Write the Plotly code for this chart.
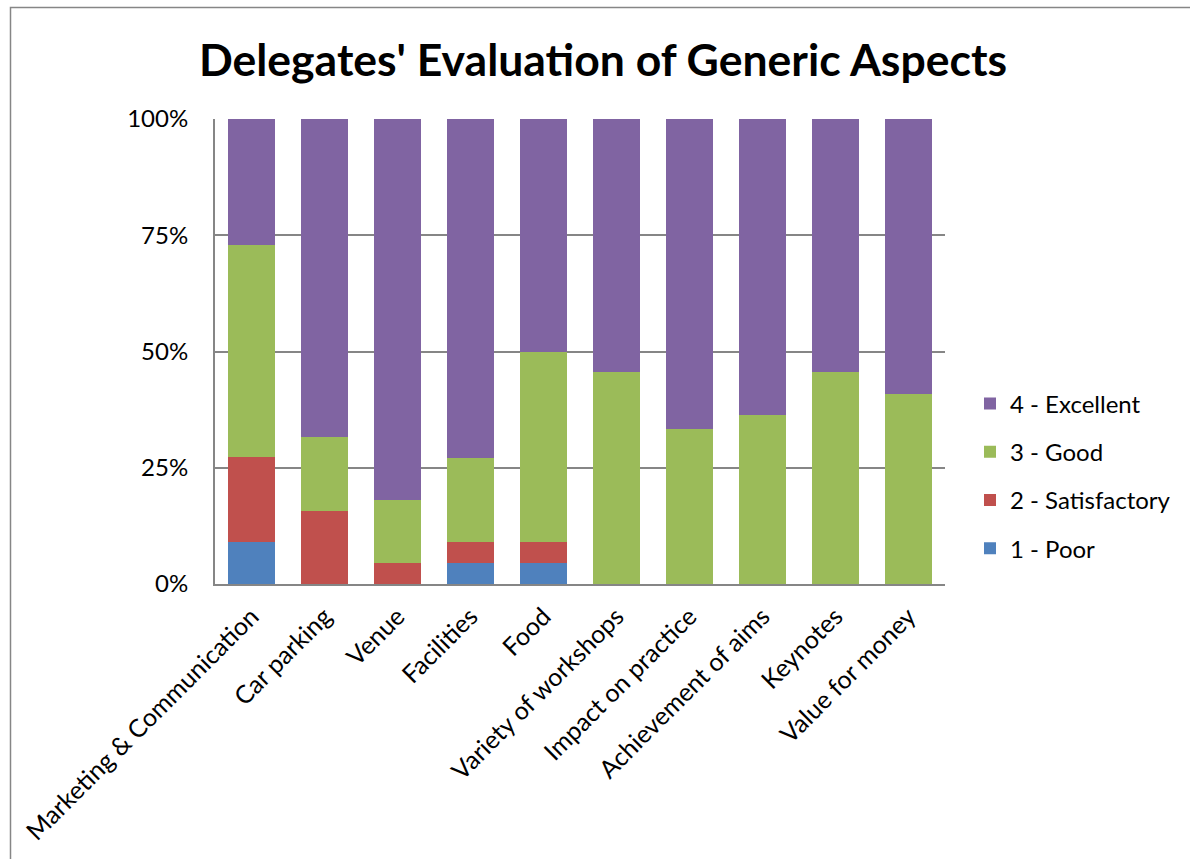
import plotly.graph_objects as go

categories = ["Marketing & Communication", "Car parking", "Venue", "Facilities", "Food",
              "Variety of workshops", "Impact on practice", "Achievement of aims",
              "Keynotes", "Value for money"]
poor = [9.1, 0, 0, 4.5, 4.5, 0, 0, 0, 0, 0]
satisfactory = [18.2, 15.8, 4.5, 4.5, 4.5, 0, 0, 0, 0, 0]
good = [45.5, 15.8, 13.6, 18.2, 40.9, 45.5, 33.3, 36.4, 45.5, 40.9]
excellent = [27.2, 68.4, 81.9, 72.8, 50.1, 54.5, 66.7, 63.6, 54.5, 59.1]
series_names = ["1 - Poor", "2 - Satisfactory", "3 - Good", "4 - Excellent"]
colors = ["#4F81BD", "#C0504D", "#9BBB59", "#8064A2"]
tick_vals = [0, 25, 50, 75, 100]
tick_text = ["0%", "25%", "50%", "75%", "100%"]
title = "Delegates' Evaluation of Generic Aspects"

W, H = 1190, 859
L, R, T, B = 215, 945, 119, 584

fig = go.Figure()
for i, (name, vals, col) in enumerate(zip(series_names, [poor, satisfactory, good, excellent], colors)):
    fig.add_trace(go.Bar(x=categories, y=vals, name=name, legendgroup=name,
                         legendrank=10 - i,
                         marker=dict(color=col, line=dict(width=0))))

fig.update_layout(
    width=W, height=H,
    barmode="stack",
    bargap=0.356,
    plot_bgcolor="white",
    paper_bgcolor="white",
    margin=dict(l=L, r=W - R, t=T, b=H - B, autoexpand=False),
    font=dict(family="Lato", size=24, color="black"),
    title=dict(text=title, x=603 / W, xref="container", xanchor="center",
               y=1 - 60 / H, yref="container", yanchor="middle",
               font=dict(family="Lato", size=44.5, color="black", weight="bold")),
    legend=dict(x=(970 - L) / (R - L), xanchor="left", y=(B - 476) / (B - T), yanchor="middle",
                traceorder="grouped", tracegroupgap=14,
                font=dict(family="Lato", size=24, color="black"),
                itemwidth=30),
    showlegend=True,
)
fig.update_yaxes(range=[0, 100], tickvals=tick_vals, ticktext=tick_text,
                 showgrid=True, gridcolor="#868686", gridwidth=1.5,
                 showline=True, linecolor="#868686", linewidth=2,
                 ticks="", ticklabelstandoff=20, zeroline=False,
                 tickfont=dict(family="Lato", size=24, color="black"))
fig.update_xaxes(showline=True, linecolor="#868686", linewidth=2,
                 ticks="", tickangle=-45, ticklabelstandoff=6,
                 tickfont=dict(family="Lato", size=25, color="black"))

# outer chart border
fig.add_shape(type="rect", xref="paper", yref="paper",
              x0=(10.5 - L) / (R - L), x1=(W + 20 - L) / (R - L),
              y0=(B - (H + 20)) / (B - T), y1=(B - 7.5) / (B - T),
              line=dict(color="#868686", width=1.5), fillcolor="rgba(0,0,0,0)", layer="below")

fig.write_html("out.html", config={"displayModeBar": False},
               post_script="document.body.style.margin='0';document.body.style.overflow='hidden';")
